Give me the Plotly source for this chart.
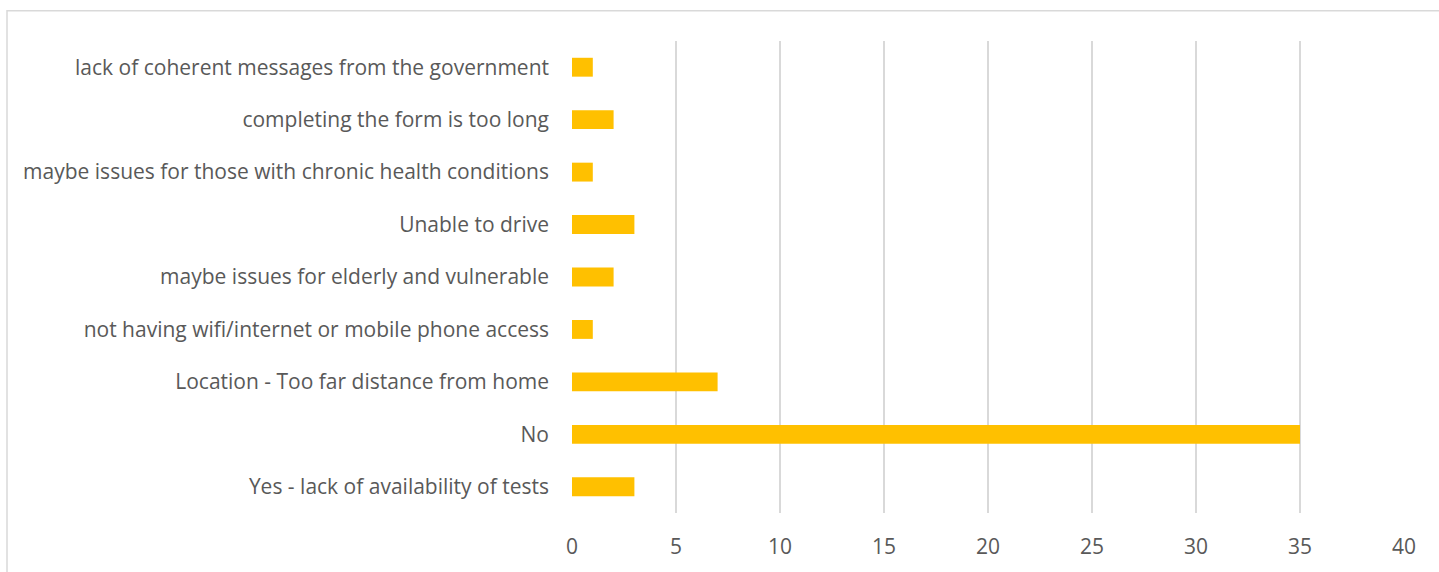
import plotly.graph_objects as go

# Survey responses: barriers to getting tested (bottom to top)
categories = [
    "Yes - lack of availability of tests",
    "No",
    "Location - Too far distance from home",
    "not having wifi/internet or mobile phone access",
    "maybe issues for elderly and vulnerable",
    "Unable to drive",
    "maybe issues for those with chronic health conditions",
    "completing the form is too long",
    "lack of coherent messages from the government",
]
counts = [3, 35, 7, 1, 2, 3, 1, 2, 1]
x_ticks = [0, 5, 10, 15, 20, 25, 30, 35, 40]

W, H = 1439, 572
L, R, T, B = 572, 35, 41, 57
pw, ph = W - L - R, H - T - B

fig = go.Figure(go.Bar(
    y=categories, x=counts, orientation="h",
    marker=dict(color="#FFC000", line=dict(width=0)),
    hoverinfo="x+y",
))

fig.update_layout(
    width=W, height=H,
    margin=dict(l=L, r=R, t=T, b=B),
    paper_bgcolor="white", plot_bgcolor="white",
    bargap=0.64,
    showlegend=False,
    font=dict(family="Open Sans, Liberation Sans, sans-serif", size=21, color="#595959"),
    xaxis=dict(
        range=[0, 40], tickvals=x_ticks, showgrid=True,
        gridcolor="#D9D9D9", gridwidth=1.5, zeroline=False,
        showline=False, ticks="", ticklabelstandoff=19,
        tickfont=dict(size=21, color="#595959"),
    ),
    yaxis=dict(
        categoryorder="array", categoryarray=categories,
        showgrid=False, zeroline=False, showline=False, ticks="",
        ticklabelstandoff=22, tickfont=dict(size=21, color="#595959"),
    ),
    shapes=[dict(
        type="rect", xref="paper", yref="paper",
        x0=(7 - L) / pw, x1=(W + 5 - L) / pw,
        y0=(H - (H + 5) - B) / ph, y1=(H - 10.5 - B) / ph,
        line=dict(color="#D9D9D9", width=1.5), fillcolor="rgba(0,0,0,0)",
        layer="below",
    )],
)

fig.write_html("out.html")
